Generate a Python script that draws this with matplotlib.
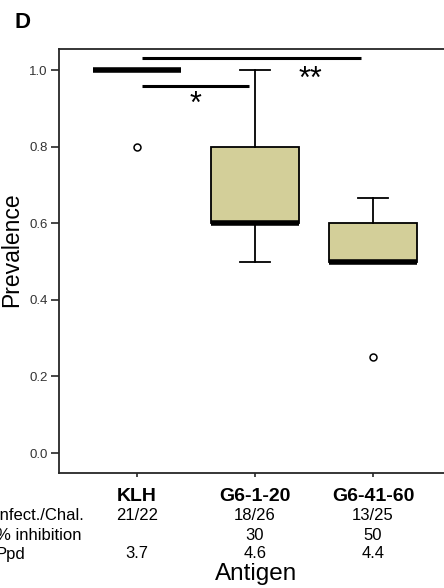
import matplotlib
matplotlib.use("Agg")
import matplotlib.pyplot as plt

plt.rcParams['font.family'] = ['Liberation Sans', 'DejaVu Sans']

# data
groups = ["KLH", "G6-1-20", "G6-41-60"]
whislo = [1.0, 0.5, 0.5]
q1 = [1.0, 0.6, 0.5]
med = [1.0, 0.6, 0.5]
q3 = [1.0, 0.8, 0.6]
whishi = [1.0, 1.0, 0.667]
fliers = [[0.8], [], [0.25]]

row_names = ["Infect./Chal.", "% inhibition", "Ppd"]
infect = ["21/22", "18/26", "13/25"]
inhibition = ["", "30", "50"]
ppd = ["3.7", "4.6", "4.4"]

box_color = "#D3CF99"
spine_color = "#262626"

fig = plt.figure(figsize=(4.44, 5.88), dpi=100)
ax = fig.add_axes([59 / 444, 115 / 588, 392 / 444, 424 / 588])

stats = []
for i in range(len(groups)):
    stats.append(dict(label=groups[i], whislo=whislo[i], q1=q1[i], med=med[i],
                      q3=q3[i], whishi=whishi[i], fliers=fliers[i]))

pos = [1, 2, 3]
ax.bxp(stats, positions=pos, widths=0.75, capwidths=0.25, patch_artist=True,
       boxprops=dict(facecolor=box_color, edgecolor="black", linewidth=1.3),
       medianprops=dict(color="black", linewidth=4),
       whiskerprops=dict(color="black", linewidth=1.3),
       capprops=dict(color="black", linewidth=1.3),
       flierprops=dict(marker="o", markersize=5, markerfacecolor="white",
                       markeredgecolor="black", markeredgewidth=1.1))

# significance bars
ax.plot([1.04, 2.9], [1.031, 1.031], color="black", linewidth=2.2, solid_capstyle="butt")
ax.plot([1.04, 1.95], [0.959, 0.959], color="black", linewidth=2.2, solid_capstyle="butt")
ax.text(2.47, 0.974, "**", ha="center", va="center", fontsize=22)
ax.text(1.50, 0.910, "*", ha="center", va="center", fontsize=22)

ax.set_xlim(0.34, 3.66)
ax.set_ylim(-0.052, 1.055)
ax.set_yticks([0.0, 0.2, 0.4, 0.6, 0.8, 1.0])
ax.set_yticklabels(["0.0", "0.2", "0.4", "0.6", "0.8", "1.0"], fontsize=9.5, color="#333333")
ax.set_xticks(pos)
ax.set_xticklabels(groups, fontsize=14, fontweight="bold")
ax.tick_params(axis="x", length=3, width=1.2, color=spine_color, pad=8)
ax.tick_params(axis="y", length=6, width=1.2, color=spine_color, pad=2)

for s in ax.spines.values():
    s.set_color(spine_color)
    s.set_linewidth(1.3)

ax.set_ylabel("Prevalence", fontsize=16.5)
ax.yaxis.set_label_coords(-0.092, 0.526)

# table rows under the axis
row_y = [515, 535, 554]
rows = [infect, inhibition, ppd]
for name, vals, py in zip(row_names, rows, row_y):
    fig.text(-4 / 444, 1 - py / 588, name, ha="left", va="center", fontsize=12)
    for p, v in zip(pos, vals):
        x_fig = fig.transFigure.inverted().transform(ax.transData.transform((p, 0)))[0]
        fig.text(x_fig, 1 - py / 588, v, ha="center", va="center", fontsize=12)

fig.text(256 / 444, 1 - 574 / 588, "Antigen", ha="center", va="center", fontsize=17.5)
fig.text(14 / 444, 1 - 23 / 588, "D", ha="left", va="center", fontsize=16, fontweight="bold")

fig.savefig("out.png", dpi=100)
